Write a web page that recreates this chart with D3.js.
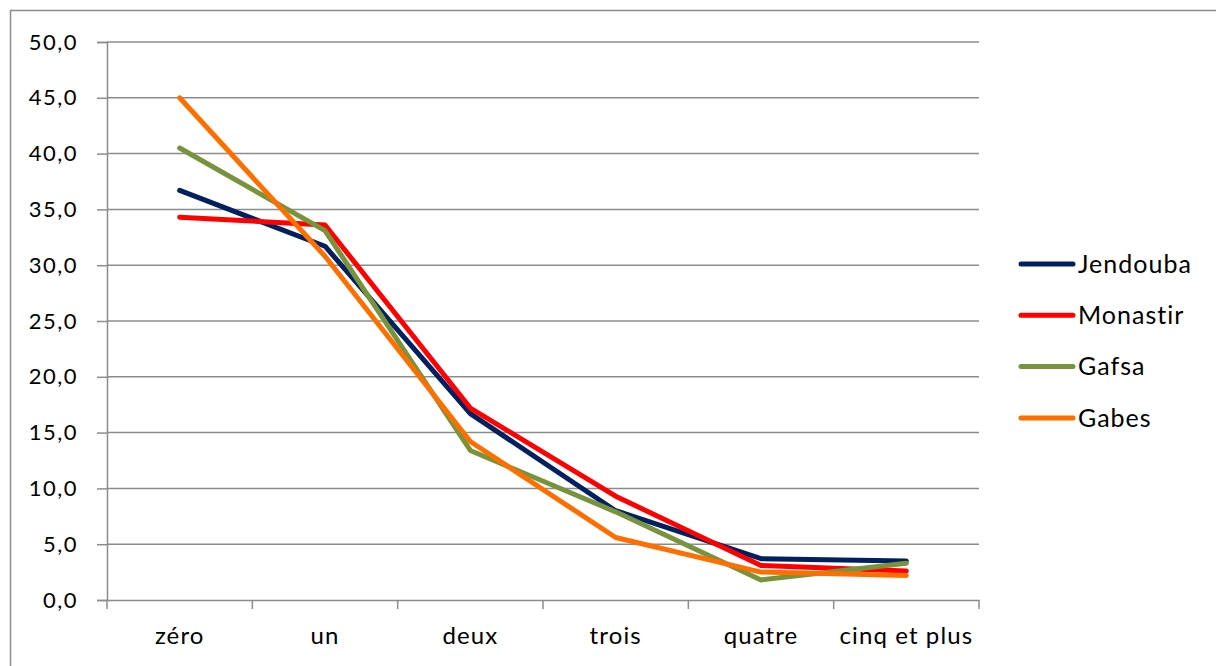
<!DOCTYPE html>
<html>
<head>
<meta charset="utf-8">
<script src="https://d3js.org/d3.v7.min.js"></script>
<style>
  body { margin: 0; background: #fff; }
  text { font-family: Lato, "Open Sans", sans-serif; fill: #000; }
</style>
</head>
<body>
<div id="chart"></div>
<script>
// categories and series
var categories = ["zéro", "un", "deux", "trois", "quatre", "cinq et plus"];
var jendouba = [36.7, 31.7, 16.7, 8.0, 3.7, 3.5];
var monastir = [34.3, 33.6, 17.2, 9.3, 3.1, 2.6];
var gafsa    = [40.5, 33.1, 13.4, 7.9, 1.8, 3.3];
var gabes    = [45.0, 30.8, 14.2, 5.6, 2.5, 2.2];
var seriesNames = ["Jendouba", "Monastir", "Gafsa", "Gabes"];
var seriesColors = ["#002060", "#ff0000", "#77933c", "#ff6f00"];
var yTicks = [0, 5, 10, 15, 20, 25, 30, 35, 40, 45, 50];

var series = [jendouba, monastir, gafsa, gabes];

var W = 1216, H = 666;
var svg = d3.select("#chart").append("svg")
  .attr("width", W).attr("height", H);

// outer chart border (only top and left visible)
svg.append("path")
  .attr("d", "M10.5,666 V10.5 H1216")
  .attr("fill", "none").attr("stroke", "#8c8c8c").attr("stroke-width", 1.5);

var plot = {left: 107, right: 979, top: 42, bottom: 600};

var x = d3.scaleBand().domain(categories).range([plot.left, plot.right]);
var y = d3.scaleLinear().domain([0, 50]).range([plot.bottom, plot.top]);

// gridlines
svg.append("g").selectAll("line")
  .data(yTicks.filter(function(d){ return d > 0; }))
  .enter().append("line")
  .attr("x1", plot.left).attr("x2", plot.right)
  .attr("y1", function(d){ return y(d); }).attr("y2", function(d){ return y(d); })
  .attr("stroke", "#8c8c8c").attr("stroke-width", 1.5);

// y axis
var yAxis = svg.append("g")
  .attr("transform", "translate(" + plot.left + ",0)")
  .call(d3.axisLeft(y).tickValues(yTicks).tickSize(10).tickPadding(19)
    .tickFormat(function(d){ return d3.format(".1f")(d).replace(".", ","); }));
yAxis.select(".domain").attr("stroke", "#8c8c8c").attr("stroke-width", 1.5);
yAxis.selectAll(".tick line").attr("stroke", "#8c8c8c").attr("stroke-width", 1.5);
yAxis.selectAll("text").style("font-size", "22px").style("letter-spacing", "1.5px").attr("fill", "#000");

// x axis
var xAxis = svg.append("g")
  .attr("transform", "translate(0," + plot.bottom + ")")
  .call(d3.axisBottom(x).tickSize(0).tickPadding(27));
xAxis.select(".domain").attr("stroke", "#8c8c8c").attr("stroke-width", 1.5);
xAxis.selectAll("text").style("font-size", "24px").style("letter-spacing", "1.1px").attr("fill", "#000");

// category boundary ticks
var bounds = categories.map(function(c){ return x(c); }).concat([plot.right]);
svg.append("g").selectAll("line")
  .data(bounds).enter().append("line")
  .attr("x1", function(d){ return d; }).attr("x2", function(d){ return d; })
  .attr("y1", plot.bottom).attr("y2", plot.bottom + 9)
  .attr("stroke", "#8c8c8c").attr("stroke-width", 1.5);

// lines
var line = d3.line()
  .x(function(d, i){ return x(categories[i]) + x.bandwidth() / 2; })
  .y(function(d){ return y(d); });

svg.append("g").selectAll("path")
  .data(series).enter().append("path")
  .attr("d", function(d){ return line(d); })
  .attr("fill", "none")
  .attr("stroke", function(d, i){ return seriesColors[i]; })
  .attr("stroke-width", 5)
  .attr("stroke-linejoin", "round")
  .attr("stroke-linecap", "round");

// legend
var legend = svg.append("g").attr("transform", "translate(1019,264)");
var item = legend.selectAll("g").data(seriesNames).enter().append("g")
  .attr("transform", function(d, i){ return "translate(0," + (i * 51.3) + ")"; });
item.append("line")
  .attr("x1", 2).attr("x2", 54).attr("y1", 0).attr("y2", 0)
  .attr("stroke", function(d, i){ return seriesColors[i]; })
  .attr("stroke-width", 5).attr("stroke-linecap", "round");
item.append("text")
  .attr("x", 59).attr("y", 0).attr("dy", "0.35em")
  .style("font-size", "25px").style("letter-spacing", "1px")
  .text(function(d){ return d; });
</script>
</body>
</html>
